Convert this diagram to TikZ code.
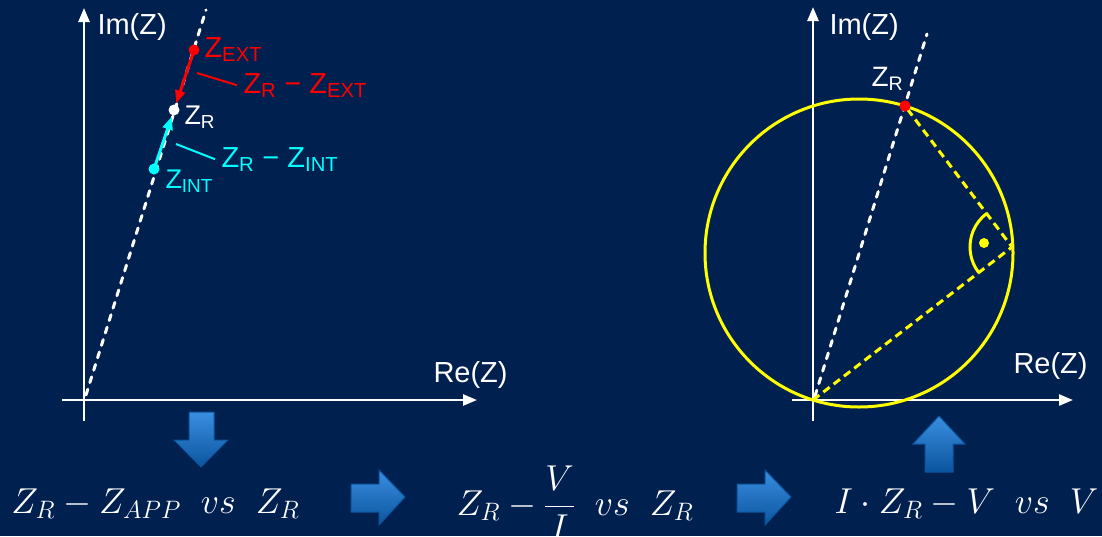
\documentclass[tikz,border=0pt]{standalone}
\usepackage{fix-cm}
\usepackage{fontspec}
\setmainfont{Liberation Sans}
\usetikzlibrary{arrows.meta, calc}
\definecolor{cnavy}{HTML}{002050}
\definecolor{cred}{HTML}{FF0000}
\definecolor{ccyan}{HTML}{00FFFF}
\definecolor{cyellow}{HTML}{FFFF00}
\definecolor{cbluelt}{HTML}{3A8EE0}
\definecolor{cbluedk}{HTML}{0B559F}
\tikzset{
  every picture/.style={line width=3pt},
  axis/.style={white, line width=2.5pt, -{Triangle[length=14pt,width=11pt]}},
  ray/.style={white, dash pattern=on 6pt off 7pt, line cap=round},
  ydash/.style={cyellow, dash pattern=on 8pt off 5pt},
  dot/.style={circle, fill=#1, inner sep=0pt, minimum size=11pt},
  vec/.style={draw=#1, -{Triangle[length=13pt,width=10pt]}},
  lbl/.style={font=\fontsize{29}{34}\selectfont, inner sep=0pt, anchor=base west},
  leader/.style={draw=#1, line width=2pt},
  eqn/.style={text=white, font=\fontsize{36}{44}\selectfont, inner sep=0pt, anchor=base west},
  bigarrow/.style={top color=cbluelt, bottom color=cbluedk, draw=cbluedk, line width=1pt},
}

\begin{document}
\begin{tikzpicture}[x=1pt, y=-1pt]
  \fill[cnavy] (0,0) rectangle (1102,536);
  \useasboundingbox (0,0) rectangle (1102,536);

  \coordinate (o1) at (84,400);
  \draw[axis] (84,421) -- (84,8);
  \draw[axis] (62,400) -- (477,400);
  \node[lbl, text=white] (im1) at (96,34) {Im(Z)};
  \node[lbl, text=white] (re1) at (432,382) {Re(Z)};
  \coordinate (r1a) at (86,395);
  \coordinate (r1b) at (206,10);
  \draw[ray] (r1a) -- (r1b);
  \node[dot=cred] (zext) at (194,50) {};
  \node[dot=white] (zr1) at (174,110) {};
  \node[dot=ccyan] (zint) at (154,169) {};
  \draw[vec=cred] (zext.center) -- (zr1);
  \draw[vec=ccyan] (zint.center) -- (zr1);
  \node[lbl, text=cred] (lext) at (203,57) {Z\textsubscript{EXT}};
  \node[lbl, text=white, font=\fontsize{27}{32}\selectfont] (lzr1) at (183,124) {Z\textsubscript{R}};
  \node[lbl, text=ccyan, font=\fontsize{27}{32}\selectfont] (lint) at (164,188) {Z\textsubscript{INT}};
  \node[lbl, text=cred] (ldext) at (242,93) {Z\textsubscript{R} − Z\textsubscript{EXT}};
  \node[lbl, text=ccyan] (ldint) at (220,167) {Z\textsubscript{R} − Z\textsubscript{INT}};
  \coordinate (lx1) at (197,73);
  \coordinate (lx2) at (176,144);
  \draw[leader=cred] (lx1) -- ([xshift=-5pt]ldext.west);
  \draw[leader=ccyan] (lx2) -- ([xshift=-5pt]ldint.west);

  \coordinate (o2) at (813,400);
  \coordinate (ctr) at (859,253);
  \coordinate (pr) at (1012,247);
  \draw[axis] (813,421) -- (813,7);
  \draw[axis] (792,400) -- (1073,400);
  \node[lbl, text=white] (im2) at (828,34) {Im(Z)};
  \node[lbl, text=white] (re2) at (1012,373) {Re(Z)};
  \draw[cyellow] (ctr) circle[radius=154];
  \coordinate (r2a) at (815,396);
  \coordinate (r2b) at (927,34);
  \draw[ray] (r2a) -- (r2b);
  \node[dot=cred] (zr2) at (905,106) {};
  \draw[ydash] (o2) -- (pr) -- (zr2.center);
  \draw[cyellow] ($(pr)!42pt!(o2)$) arc[start angle=142.4, end angle=232.8, radius=42];
  \node[dot=cyellow, minimum size=10pt] (rdot) at (984,243) {};
  \node[dot=cred] at (zr2) {};
  \node[lbl, text=white, font=\fontsize{28}{33}\selectfont] (lzr2) at (870,86) {Z\textsubscript{R}};

  \draw[bigarrow] (189,412) -- (214,412) -- (214,440) -- (228,440) -- (201,467) -- (174,440) -- (189,440) -- cycle;
  \foreach \dx in {0,386}
    \draw[bigarrow, shift={(\dx,0)}] (351,484) -- (379,484) -- (379,470) -- (405,497) -- (379,525) -- (379,512) -- (351,512) -- cycle;
  \draw[bigarrow] (925,472) -- (953,472) -- (953,444) -- (965,444) -- (939,416) -- (913,444) -- (925,444) -- cycle;

  \node[eqn] (eq1) at (10,513) {$Z_R - Z_{APP}\ \ vs\ \ Z_R$};
  \node[eqn] (eq2) at (455,515) {$Z_R - {\displaystyle\frac{V}{I}}\ \ vs\ \ Z_R$};
  \node[eqn] (eq3) at (833,513) {$I\cdot Z_R - V\ \ vs\ \ V$};
\end{tikzpicture}
\end{document}
